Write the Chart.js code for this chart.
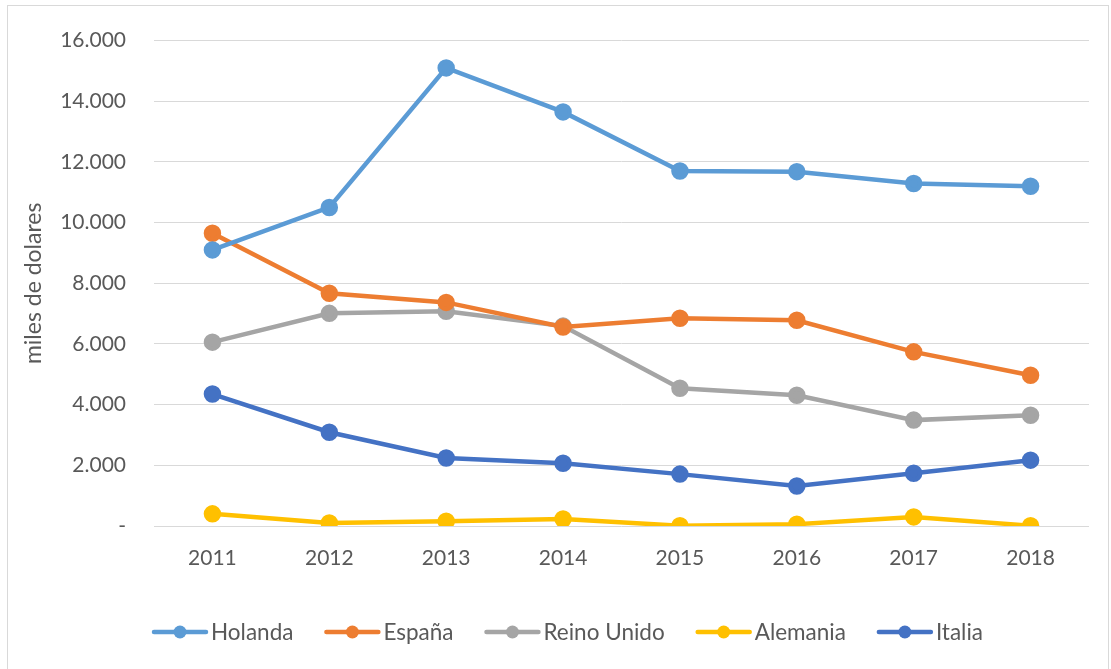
<!DOCTYPE html>
<html>
<head>
<meta charset="utf-8">
<script src="https://cdn.jsdelivr.net/npm/chart.js"></script>
<style>
  html, body { margin: 0; padding: 0; background: #fff; }
  #wrap { position: relative; width: 1111px; height: 669px; }
  #frame { position: absolute; left: 7px; top: 5px; width: 1102px; height: 670px; border: 1px solid #d9d9d9; box-sizing: border-box; pointer-events: none; }
  canvas { position: absolute; left: 0; top: 0; }
</style>
</head>
<body>
<div id="wrap">
  <canvas id="c" width="1111" height="669"></canvas>
  <div id="frame"></div>
</div>
<script>
const years = ['2011','2012','2013','2014','2015','2016','2017','2018'];
const holanda   = [9100, 10500, 15100, 13650, 11700, 11680, 11290, 11200];
const espana    = [9650, 7670, 7370, 6560, 6850, 6780, 5740, 4970];
const reinoUnido= [6060, 7010, 7080, 6590, 4540, 4310, 3490, 3650];
const alemania  = [400, 100, 160, 230, 10, 60, 300, 10];
const italia    = [4350, 3090, 2240, 2070, 1710, 1320, 1740, 2170];
const yTicks = [0, 2000, 4000, 6000, 8000, 10000, 12000, 14000, 16000];

const FONT = 'Lato, "Open Sans", sans-serif';
const TXT = '#595959';

function fmt(v) {
  if (v === 0) return '-';
  return v.toString().replace(/\B(?=(\d{3})+(?!\d))/g, '.');
}

function ds(label, data, color) {
  return {
    label, data,
    borderColor: color, backgroundColor: color,
    pointBackgroundColor: color, pointBorderColor: color,
    borderWidth: 4.5, pointRadius: 6.5, pointHoverRadius: 6.5,
    tension: 0, fill: false
  };
}

const legendPlugin = {
  id: 'customLegend',
  afterDraw(chart) {
    const ctx = chart.ctx;
    ctx.save();
    ctx.font = '22.5px ' + FONT;
    const symW = 56, gapSym = 3;
    const items = chart.data.datasets.map(d => ({ d, w: symW + gapSym + ctx.measureText(d.label).width }));
    const sumW = items.reduce((s, it) => s + it.w, 0);
    const left = 152, right = 983;
    const gapItem = (right - left - sumW) / (items.length - 1);
    let x = left;
    const y = 632;
    items.forEach(it => {
      const c = it.d.borderColor;
      ctx.strokeStyle = c; ctx.lineWidth = 4.5; ctx.lineCap = 'round';
      ctx.beginPath(); ctx.moveTo(x + 2, y); ctx.lineTo(x + symW - 2, y); ctx.stroke();
      ctx.fillStyle = c;
      ctx.beginPath(); ctx.arc(x + symW / 2, y, 6.5, 0, Math.PI * 2); ctx.fill();
      ctx.fillStyle = TXT; ctx.textBaseline = 'middle'; ctx.textAlign = 'left';
      ctx.fillText(it.d.label, x + symW + gapSym, y + 1);
      x += it.w + gapItem;
    });
    ctx.restore();
  }
};

new Chart(document.getElementById('c'), {
  type: 'line',
  data: {
    labels: years,
    datasets: [
      ds('Holanda', holanda, '#5B9BD5'),
      ds('España', espana, '#ED7D31'),
      ds('Reino Unido', reinoUnido, '#A5A5A5'),
      ds('Alemania', alemania, '#FFC000'),
      ds('Italia', italia, '#4472C4')
    ]
  },
  options: {
    responsive: false,
    animation: false,
    layout: { padding: { top: 40, right: 22, left: 20, bottom: 0 } },
    plugins: { legend: { display: false }, tooltip: { enabled: false } },
    scales: {
      x: {
        offset: true,
        grid: { display: false },
        border: { display: false },
        ticks: { color: TXT, font: { family: FONT, size: 21 }, padding: 12 },
        afterFit(s) { s.height = 143; }
      },
      y: {
        min: 0, max: 16000,
        afterBuildTicks(s) { s.ticks = yTicks.map(v => ({ value: v })); },
        grid: { color: '#d9d9d9', lineWidth: 1, drawTicks: false },
        border: { display: false },
        ticks: { color: TXT, font: { family: FONT, size: 21 }, padding: 28, callback: v => fmt(v) },
        title: { display: true, text: 'miles de dolares', color: TXT, font: { family: FONT, size: 23 }, padding: { top: 0, bottom: 0 } },
        afterFit(s) { s.width = 134; }
      }
    }
  },
  plugins: [legendPlugin]
});
</script>
</body>
</html>
